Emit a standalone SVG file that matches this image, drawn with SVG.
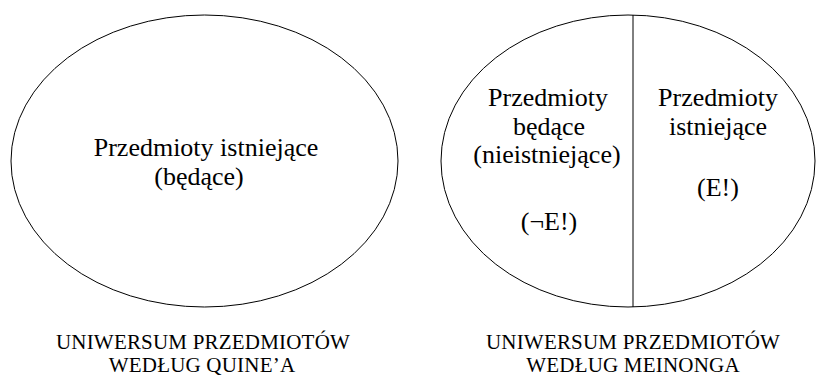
<svg xmlns="http://www.w3.org/2000/svg" width="816" height="376" viewBox="0 0 816 376" font-family="'Liberation Serif', 'DejaVu Serif', serif">
<style>
.shape{fill:#fff;stroke:#000;stroke-width:1}
.t{font-family:'Liberation Serif','DejaVu Serif',serif;font-size:26px;fill:#000;text-anchor:middle}
.lab{font-family:'Liberation Serif','DejaVu Serif',serif;font-size:21px;fill:#000;text-anchor:middle;letter-spacing:0.2px}
</style>
<rect width="816" height="376" fill="#fff"/>
<g id="quine">
<ellipse class="shape" cx="204.5" cy="161" rx="193.5" ry="146"/>
<text class="t" x="206" y="156">Przedmioty istniejące</text>
<text class="t" x="199" y="185">(będące)</text>
</g>
<g id="meinong">
<ellipse class="shape" cx="628" cy="161" rx="187" ry="146"/>
<line x1="633" y1="15" x2="633" y2="307" stroke="#000" stroke-width="1"/>
</g>
<g id="being">
<text class="t" x="548" y="106">Przedmioty</text>
<text class="t" x="549" y="135">będące</text>
<text class="t" x="547" y="163">(nieistniejące)</text>
<text class="t" x="549" y="230">(¬E!)</text>
</g>
<g id="existing">
<text class="t" x="718" y="106">Przedmioty</text>
<text class="t" x="718" y="135">istniejące</text>
<text class="t" x="718" y="196">(E!)</text>
</g>
<g id="label-quine">
<text class="lab" x="203" y="349">UNIWERSUM PRZEDMIOTÓW</text>
<text class="lab" x="202" y="372">WEDŁUG QUINE’A</text>
</g>
<g id="label-meinong">
<text class="lab" x="633" y="349">UNIWERSUM PRZEDMIOTÓW</text>
<text class="lab" x="633" y="372">WEDŁUG MEINONGA</text>
</g>
<g id="connectors"/>
</svg>
